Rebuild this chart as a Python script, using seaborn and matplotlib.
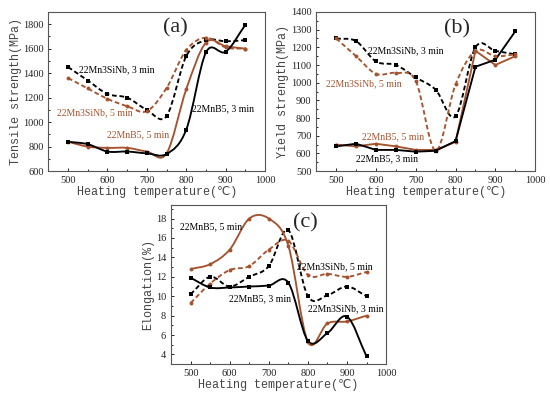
import numpy as np
import pandas as pd
import seaborn as sns
import matplotlib
matplotlib.use('Agg')
import matplotlib.pyplot as plt
from matplotlib.path import Path
from matplotlib.patches import PathPatch
from matplotlib.ticker import MultipleLocator

# Data
temps = [500, 550, 600, 650, 700, 750, 800, 850, 900, 950]

# (a) tensile strength, MPa
ts_mnb5_3 = [840, 820, 760, 760, 745, 740, 940, 1570, 1575, 1795]
ts_mnb5_5 = [840, 800, 790, 790, 760, 745, 1270, 1650, 1620, 1600]
ts_sinb_3 = [1450, 1340, 1230, 1200, 1100, 1050, 1540, 1670, 1660, 1670]
ts_sinb_5 = [1360, 1275, 1190, 1130, 1090, 1280, 1590, 1690, 1610, 1600]

# (b) yield strength, MPa
ys_mnb5_3 = [640, 655, 620, 620, 610, 615, 670, 1090, 1130, 1290]
ys_mnb5_5 = [650, 640, 655, 640, 620, 620, 665, 1180, 1100, 1150]
ys_sinb_3 = [1250, 1235, 1120, 1100, 1030, 960, 810, 1200, 1180, 1160]
ys_sinb_5 = [1250, 1150, 1050, 1055, 1010, 615, 990, 1180, 1150, 1160]

# (c) elongation, %
el_mnb5_3 = [11.9, 10.9, 10.9, 11.0, 11.1, 11.4, 5.4, 6.2, 7.9, 3.8]
el_mnb5_5 = [12.8, 13.3, 14.8, 18.0, 18.0, 15.2, 5.3, 7.2, 7.4, 8.0]
el_sinb_3 = [10.2, 12.0, 11.0, 12.0, 13.1, 16.8, 10.0, 10.1, 11.0, 10.0]
el_sinb_5 = [9.3, 11.3, 12.7, 13.1, 14.8, 15.7, 12.2, 12.3, 12.0, 12.5]

BLACK = '#000000'
BROWN = '#a5532e'

sns.set_style('ticks')
plt.rcParams['font.family'] = ['Liberation Serif', 'DejaVu Serif']
plt.rcParams['xtick.direction'] = 'in'
plt.rcParams['ytick.direction'] = 'in'
plt.rcParams['axes.edgecolor'] = '#555555'
LABEL_FONT = ['Liberation Mono', 'DejaVu Sans', 'Noto Sans CJK SC']


def smooth_line(ax, x, y, color, ls):
    # Catmull-Rom style curve through the points, drawn as bezier path
    x = np.asarray(x, float)
    y = np.asarray(y, float)
    m = np.gradient(y, x)
    verts = [(x[0], y[0])]
    codes = [Path.MOVETO]
    for i in range(len(x) - 1):
        h = x[i + 1] - x[i]
        verts += [(x[i] + h / 3, y[i] + m[i] * h / 3),
                  (x[i + 1] - h / 3, y[i + 1] - m[i + 1] * h / 3),
                  (x[i + 1], y[i + 1])]
        codes += [Path.CURVE4] * 3
    ax.add_patch(PathPatch(Path(verts, codes), fill=False, edgecolor=color,
                           lw=1.35, ls=ls))


def series(ax, y, color, marker, ls, smooth=True):
    df = pd.DataFrame({'T': temps, 'v': y})
    if smooth:
        smooth_line(ax, temps, y, color, ls)
    else:
        sns.lineplot(data=df, x='T', y='v', ax=ax, color=color, lw=1.35,
                     ls=ls, legend=False)
    sns.scatterplot(data=df, x='T', y='v', ax=ax, color=color, marker=marker,
                    s=8, edgecolor=color, linewidth=0, legend=False, zorder=3)


def style(ax, ylabel, ylim, ymaj, tag, tagpos):
    ax.set_xlim(450, 1000)
    ax.set_ylim(*ylim)
    ax.xaxis.set_major_locator(MultipleLocator(100))
    ax.xaxis.set_minor_locator(MultipleLocator(50))
    ax.yaxis.set_major_locator(MultipleLocator(ymaj))
    ax.yaxis.set_minor_locator(MultipleLocator(ymaj / 2))
    ax.tick_params(which='both', labelsize=7.5, length=2.5, width=0.7,
                   top=False, right=False, labelcolor='#222222')
    ax.tick_params(which='minor', length=1.5)
    for s in ax.spines.values():
        s.set_visible(True)
        s.set_linewidth(0.8)
    ax.set_xlabel('Heating temperature(℃)', family=LABEL_FONT, fontsize=8.5,
                  labelpad=1, color='#444444')
    ax.set_ylabel(ylabel, family=LABEL_FONT, fontsize=8.5, labelpad=1,
                  color='#444444')
    ax.text(tagpos[0], tagpos[1], tag, fontsize=16, ha='center', va='center')


fig = plt.figure(figsize=(5.5, 3.98), dpi=100)
ax_a = fig.add_axes([0.088, 0.570, 0.394, 0.400])
ax_b = fig.add_axes([0.575, 0.570, 0.398, 0.400])
ax_c = fig.add_axes([0.311, 0.085, 0.391, 0.400])

# (a)
series(ax_a, ts_sinb_3, BLACK, 's', (0, (2.5, 1.5)))
series(ax_a, ts_sinb_5, BROWN, 'o', (0, (2.5, 1.5)))
series(ax_a, ts_mnb5_5, BROWN, 'o', '-')
series(ax_a, ts_mnb5_3, BLACK, 's', '-')
style(ax_a, 'Tensile strength(MPa)', (600, 1900), 200, '(a)', (772, 1770))
ax_a.text(528, 1430, '22Mn3SiNb, 3 min', fontsize=7, color=BLACK, va='center')
ax_a.text(472, 1073, '22Mn3SiNb, 5 min', fontsize=7, color=BROWN, va='center')
ax_a.text(599, 894, '22MnB5, 5 min', fontsize=7, color=BROWN, va='center')
ax_a.text(815, 1106, '22MnB5, 3 min', fontsize=7, color=BLACK, va='center')

# (b)
series(ax_b, ys_sinb_3, BLACK, 's', (0, (2.5, 1.5)))
series(ax_b, ys_sinb_5, BROWN, 'o', (0, (2.5, 1.5)))
series(ax_b, ys_mnb5_5, BROWN, 'o', '-', smooth=False)
series(ax_b, ys_mnb5_3, BLACK, 's', '-', smooth=False)
style(ax_b, 'Yield strength(MPa)', (500, 1400), 100, '(b)', (803, 1302))
ax_b.text(581, 1182, '22Mn3SiNb, 3 min', fontsize=7, color=BLACK, va='center')
ax_b.text(475, 995, '22Mn3SiNb, 5 min', fontsize=7, color=BROWN, va='center')
ax_b.text(564, 694, '22MnB5, 5 min', fontsize=7, color=BROWN, va='center')
ax_b.text(551, 570, '22MnB5, 3 min', fontsize=7, color=BLACK, va='center')

# (c)
series(ax_c, el_sinb_3, BLACK, 's', (0, (2.5, 1.5)))
series(ax_c, el_sinb_5, BROWN, 'o', (0, (2.5, 1.5)))
series(ax_c, el_mnb5_5, BROWN, 'o', '-')
series(ax_c, el_mnb5_3, BLACK, 's', '-')
style(ax_c, 'Elongation(%)', (3, 19.4), 2, '(c)', (793, 17.6))
ax_c.text(473, 17.2, '22MnB5, 5 min', fontsize=7, color=BLACK, va='center')
ax_c.text(597, 9.75, '22MnB5, 3 min', fontsize=7, color=BLACK, va='center')
ax_c.text(772, 13.05, '22Mn3SiNb, 5 min', fontsize=7, color=BLACK, va='center')
ax_c.text(800, 8.7, '22Mn3SiNb, 3 min', fontsize=7, color=BLACK, va='center')

fig.savefig('out.png', dpi=100)
